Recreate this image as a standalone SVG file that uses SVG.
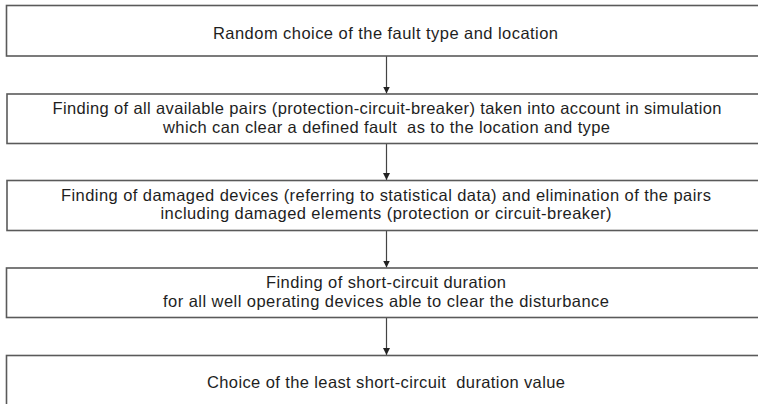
<svg xmlns="http://www.w3.org/2000/svg" width="758" height="404" viewBox="0 0 758 404">
  <style>
    .box { fill: #ffffff; stroke: #5a5a5a; stroke-width: 1.6; }
    .t { font-family: "Liberation Sans", Arial, sans-serif; font-size: 16.5px; fill: #1e1e1e; text-anchor: middle; white-space: pre; }
    .conn { stroke: #444; stroke-width: 1.2; fill: none; marker-end: url(#ah); }
  </style>
  <defs>
    <marker id="ah" markerWidth="8" markerHeight="8" refX="7" refY="4" orient="auto" markerUnits="userSpaceOnUse">
      <path d="M0,0.5 L7,4 L0,7.5 Z" fill="#222"/>
    </marker>
  </defs>
  <rect width="758" height="404" fill="#ffffff"/>
  <g id="connectors">
    <line class="conn" x1="386.5" y1="56" x2="386.5" y2="93.5"/>
    <line class="conn" x1="386.5" y1="143.5" x2="386.5" y2="180"/>
    <line class="conn" x1="386.5" y1="230.5" x2="386.5" y2="267.5"/>
    <line class="conn" x1="386.5" y1="317.5" x2="386.5" y2="355"/>
  </g>
  <g id="n1">
    <rect class="box" x="6.5" y="5.5" width="760" height="50.5"/>
    <text class="t" x="385.5" y="38.5" textLength="345" lengthAdjust="spacing">Random choice of the fault type and location</text>
  </g>
  <g id="n2">
    <rect class="box" x="7" y="94" width="760" height="49.5"/>
    <text class="t" x="387" y="114" textLength="669" lengthAdjust="spacing">Finding of all available pairs (protection-circuit-breaker) taken into account in simulation</text>
    <text class="t" x="386.5" y="132.5" textLength="447" lengthAdjust="spacing">which can clear a defined fault  as to the location and type</text>
  </g>
  <g id="n3">
    <rect class="box" x="7" y="180.5" width="760" height="50"/>
    <text class="t" x="386" y="200.5" textLength="650" lengthAdjust="spacing">Finding of damaged devices (referring to statistical data) and elimination of the pairs</text>
    <text class="t" x="386" y="219" textLength="451" lengthAdjust="spacing">including damaged elements (protection or circuit-breaker)</text>
  </g>
  <g id="n4">
    <rect class="box" x="6.5" y="268" width="760" height="49.5"/>
    <text class="t" x="386" y="288" textLength="240" lengthAdjust="spacing">Finding of short-circuit duration</text>
    <text class="t" x="386" y="306.5" textLength="446" lengthAdjust="spacing">for all well operating devices able to clear the disturbance</text>
  </g>
  <g id="n5">
    <rect class="box" x="6.5" y="355.5" width="760" height="60"/>
    <text class="t" x="386" y="387.5" textLength="358" lengthAdjust="spacing">Choice of the least short-circuit  duration value</text>
  </g>
</svg>
